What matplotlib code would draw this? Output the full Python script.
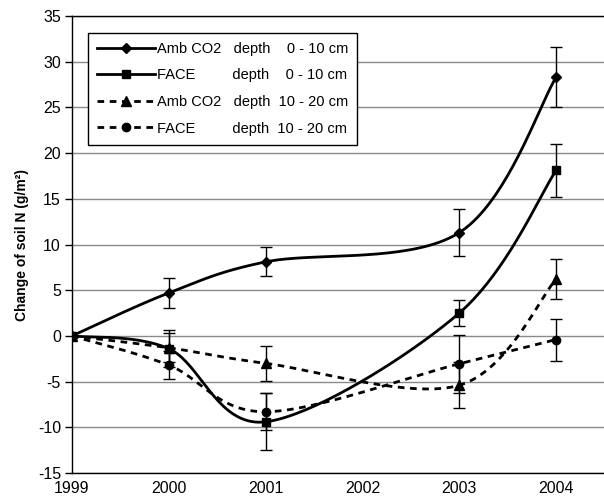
"""
Change of soil N under ambient CO2 and FACE, two soil depths.
"""

import numpy as np
import matplotlib
matplotlib.use("Agg")
import matplotlib.pyplot as plt
from matplotlib.lines import Line2D

plt.rcParams["font.family"] = ["Liberation Sans", "DejaVu Sans"]
plt.rcParams["axes.unicode_minus"] = False

# Data
years = [1999, 2000, 2001, 2003, 2004]
amb_0_10 = [0, 4.7, 8.1, 11.3, 28.3]
amb_0_10_err = [0, 1.6, 1.6, 2.6, 3.3]
face_0_10 = [0, -1.4, -9.4, 2.5, 18.1]
face_0_10_err = [0, 2.0, 3.1, 1.4, 2.9]
amb_10_20 = [0, -1.3, -3.0, -5.4, 6.2]
amb_10_20_err = [0, 1.6, 1.9, 2.5, 2.2]
face_10_20 = [0, -3.2, -8.3, -3.05, -0.4]
face_10_20_err = [0, 1.5, 2.0, 3.2, 2.3]

x_ticks = [1999, 2000, 2001, 2002, 2003, 2004]
y_ticks = list(range(-15, 40, 5))

labels = [
    "Amb CO2   depth    0 - 10 cm",
    "FACE         depth    0 - 10 cm",
    "Amb CO2   depth  10 - 20 cm",
    "FACE         depth  10 - 20 cm",
]


def smooth(x, y, n=40):
    # Excel-style smoothed line: Bezier segments with Catmull-Rom control points
    pts = np.column_stack([x, y]).astype(float)
    P = np.vstack([pts[0], pts, pts[-1]])
    t = np.linspace(0, 1, n)[:, None]
    segs = []
    for i in range(1, len(P) - 2):
        p0, p1, p2, p3 = P[i - 1], P[i], P[i + 1], P[i + 2]
        c1 = p1 + (p2 - p0) / 6
        c2 = p2 - (p3 - p1) / 6
        segs.append((1 - t) ** 3 * p1 + 3 * (1 - t) ** 2 * t * c1
                    + 3 * (1 - t) * t ** 2 * c2 + t ** 3 * p2)
    out = np.vstack(segs)
    return out[:, 0], out[:, 1]


fig = plt.figure(figsize=(6.04, 4.98), dpi=100)
ax = fig.add_axes([72 / 604, 1 - 473 / 498, 1 - 72 / 604, (473 - 16) / 498])

dash = (0, (2.4, 2.0))
series = [
    (amb_0_10, amb_0_10_err, "D", 5, "-"),
    (face_0_10, face_0_10_err, "s", 6, "-"),
    (amb_10_20, amb_10_20_err, "^", 7, dash),
    (face_10_20, face_10_20_err, "o", 6, dash),
]

handles = []
for (vals, errs, mk, ms, ls), lab in zip(series, labels):
    sx, sy = smooth(years, vals)
    ax.plot(sx, sy, color="black", lw=2.0, ls=ls, zorder=3)
    ax.errorbar(years[1:], vals[1:], yerr=errs[1:], fmt="none", ecolor="black",
                elinewidth=1, capsize=4, capthick=1, zorder=4)
    ax.plot(years, vals, ls="none", marker=mk, ms=ms, color="black", zorder=5)
    handles.append(Line2D([], [], color="black", lw=2.0, ls=ls, marker=mk, ms=ms))

ax.set_xlim(1999, 2004 + 48 / 97)
ax.set_ylim(-15, 35)
ax.set_xticks(x_ticks)
ax.set_yticks(y_ticks)
ax.tick_params(axis="x", length=0, pad=6, labelsize=11.5)
ax.tick_params(axis="y", length=5, width=1, pad=3, labelsize=11.5)

ax.grid(axis="y", color="#8a8a8a", lw=1)
ax.set_axisbelow(True)
ax.spines["right"].set_visible(False)
for s in ["left", "bottom", "top"]:
    ax.spines[s].set_color("black")
    ax.spines[s].set_linewidth(1)

ax.set_ylabel("Change of soil N (g/m²)", fontsize=10, fontweight="bold", labelpad=6)

leg = ax.legend(handles, labels, loc="upper left", bbox_to_anchor=(0.030, 0.963),
                borderaxespad=0, fontsize=10.5, handlelength=4.0, handletextpad=0.1,
                labelspacing=0.86, borderpad=0.62, fancybox=False, framealpha=1,
                edgecolor="black")
leg.get_frame().set_linewidth(1)

plt.savefig("out.png", dpi=100)
